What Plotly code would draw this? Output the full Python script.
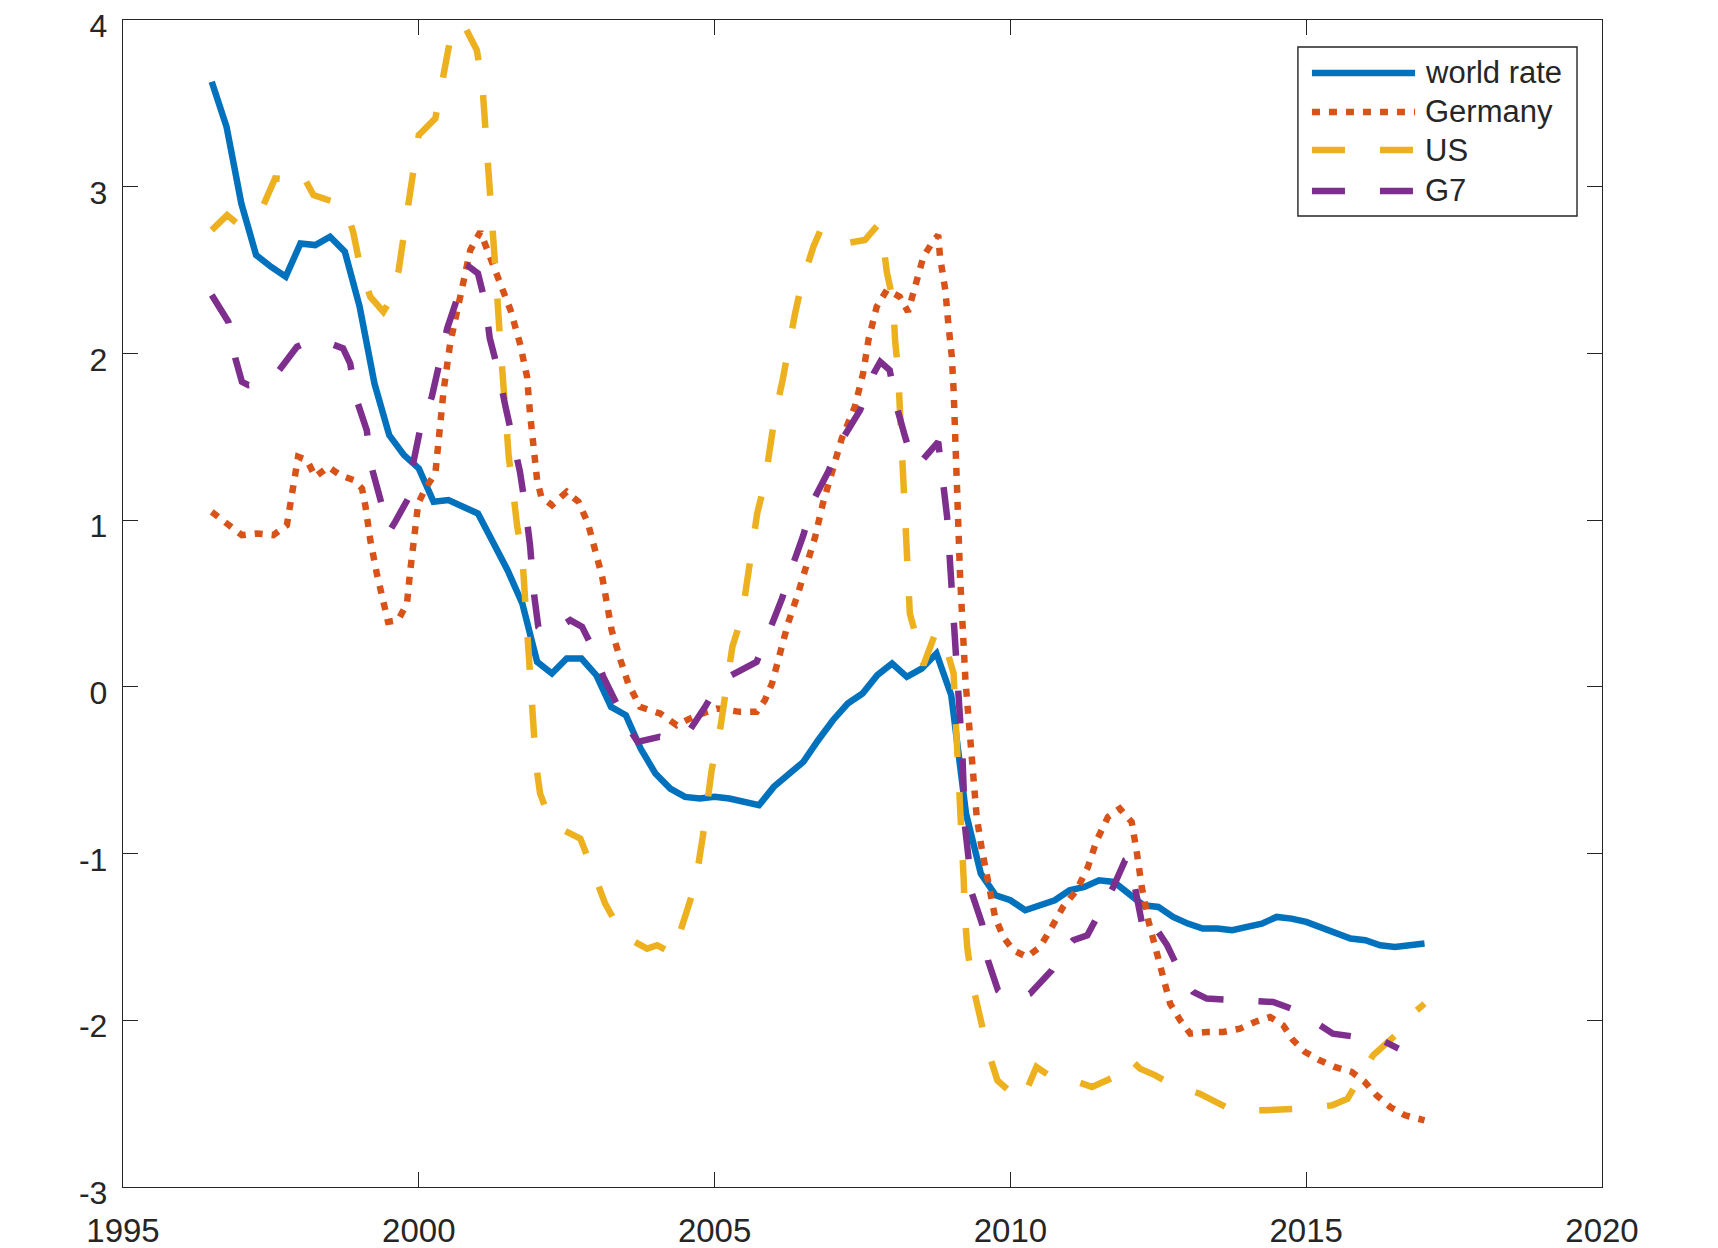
import plotly.graph_objects as go

# ---------------- data ----------------
world_x = [1996.5 + 0.25 * i for i in range(83)]
world_y = [3.63, 3.36, 2.90, 2.59, 2.52, 2.46, 2.66, 2.65, 2.70, 2.61,
           2.28, 1.82, 1.51, 1.39, 1.31, 1.11, 1.12, 1.08, 1.04, 0.87,
           0.70, 0.50, 0.15, 0.08, 0.17, 0.17, 0.07, -0.12, -0.17, -0.37,
           -0.52, -0.61, -0.66, -0.67, -0.66, -0.67, -0.69, -0.71, -0.60, -0.53,
           -0.45, -0.32, -0.20, -0.10, -0.04, 0.07, 0.14, 0.06, 0.11, 0.20,
           -0.05, -0.76, -1.12, -1.25, -1.28, -1.34, -1.31, -1.28, -1.22, -1.20,
           -1.16, -1.17, -1.24, -1.31, -1.32, -1.38, -1.42, -1.45, -1.45, -1.46,
           -1.44, -1.42, -1.38, -1.39, -1.41, -1.44, -1.48, -1.51, -1.52, -1.55,
           -1.56, -1.55, -1.54]

germany_x = [1996.5, 1996.78, 1997.01, 1997.26, 1997.54, 1997.77, 1997.86, 1997.96, 1998.11, 1998.25,
             1998.47, 1998.67, 1998.9, 1999.04, 1999.1, 1999.18, 1999.29, 1999.4, 1999.48, 1999.65,
             1999.8, 1999.85, 1999.91, 1999.99, 2000.11, 2000.28, 2000.33, 2000.42, 2000.53, 2000.7,
             2000.87, 2001.04, 2001.2, 2001.38, 2001.55, 2001.71, 2001.83, 2001.88, 2001.94, 2002.0,
             2002.07, 2002.25, 2002.5, 2002.7, 2002.86, 2002.98, 2003.1, 2003.18, 2003.26, 2003.41,
             2003.54, 2003.74, 2004.08, 2004.36, 2004.7, 2005.04, 2005.43, 2005.71, 2005.85, 2005.97,
             2006.11, 2006.24, 2006.41, 2006.56, 2006.7, 2006.83, 2006.98, 2007.15, 2007.37, 2007.51,
             2007.6, 2007.74, 2007.91, 2008.13, 2008.27, 2008.42, 2008.53, 2008.67, 2008.78, 2008.81,
             2008.9, 2008.95, 2009.01, 2009.04, 2009.07, 2009.1, 2009.15, 2009.24, 2009.29, 2009.35,
             2009.43, 2009.52, 2009.62, 2009.74, 2009.88, 2010.05, 2010.28, 2010.5, 2010.67, 2010.89,
             2011.12, 2011.31, 2011.46, 2011.65, 2011.85, 2012.05, 2012.14, 2012.22, 2012.33, 2012.44,
             2012.56, 2012.7, 2012.87, 2013.04, 2013.32, 2013.6, 2013.88, 2014.13, 2014.39, 2014.61,
             2014.78, 2014.98, 2015.23, 2015.48, 2015.77, 2015.99, 2016.19, 2016.42, 2016.67, 2017.0]
germany_y = [1.05, 0.97, 0.91, 0.92, 0.91, 0.97, 1.16, 1.38, 1.36, 1.26,
             1.32, 1.27, 1.24, 1.19, 1.08, 0.88, 0.68, 0.50, 0.39, 0.40,
             0.50, 0.68, 0.88, 1.10, 1.19, 1.28, 1.46, 1.78, 2.06, 2.34,
             2.62, 2.73, 2.58, 2.42, 2.26, 2.06, 1.86, 1.64, 1.42, 1.24,
             1.14, 1.09, 1.17, 1.11, 0.98, 0.82, 0.66, 0.50, 0.34, 0.16,
             0.02, -0.12, -0.16, -0.23, -0.17, -0.13, -0.15, -0.15, -0.08, 0.02,
             0.20, 0.38, 0.56, 0.72, 0.90, 1.10, 1.30, 1.49, 1.68, 1.88,
             2.08, 2.28, 2.38, 2.34, 2.25, 2.46, 2.58, 2.66, 2.71, 2.58,
             2.38, 2.18, 1.98, 1.78, 1.48, 1.08, 0.66, 0.04, -0.18, -0.48,
             -0.78, -0.98, -1.18, -1.38, -1.50, -1.58, -1.62, -1.56, -1.46, -1.32,
             -1.22, -1.08, -0.92, -0.78, -0.73, -0.81, -1.00, -1.20, -1.40, -1.54,
             -1.70, -1.90, -2.00, -2.08, -2.07, -2.07, -2.05, -2.01, -1.98, -2.03,
             -2.12, -2.19, -2.24, -2.28, -2.31, -2.37, -2.45, -2.52, -2.57, -2.60]

us_x = [1996.5, 1996.76, 1996.93, 1997.35, 1997.57, 1997.94, 1998.02, 1998.22, 1998.64, 1998.76,
        1998.89, 1999.01, 1999.18, 1999.4, 1999.52, 1999.66, 1999.83, 2000.0, 2000.28, 2000.39,
        2000.55, 2000.75, 2000.98, 2001.07, 2001.12, 2001.18, 2001.24, 2001.3, 2001.38, 2001.46,
        2001.52, 2001.59, 2001.66, 2001.75, 2001.8, 2001.86, 2001.92, 2001.98, 2002.05, 2002.2,
        2002.45, 2002.73, 2002.93, 2003.15, 2003.4, 2003.6, 2003.86, 2004.03, 2004.3, 2004.5,
        2004.67, 2004.8, 2004.95, 2005.1, 2005.21, 2005.3, 2005.46, 2005.55, 2005.65, 2005.72,
        2005.85, 2005.94, 2006.02, 2006.15, 2006.24, 2006.36, 2006.48, 2006.67, 2006.79, 2006.95,
        2007.2, 2007.54, 2007.76, 2007.83, 2007.91, 2008.02, 2008.05, 2008.1, 2008.13, 2008.17,
        2008.2, 2008.22, 2008.26, 2008.3, 2008.44, 2008.53, 2008.73, 2008.8, 2008.9, 2009.04,
        2009.07, 2009.1, 2009.13, 2009.15, 2009.19, 2009.21, 2009.23, 2009.27, 2009.35, 2009.48,
        2009.61, 2009.78, 2010.0, 2010.2, 2010.44, 2010.65, 2010.89, 2011.06, 2011.38, 2011.82,
        2012.02, 2012.19, 2012.45, 2012.7, 2013.2, 2013.75, 2014.28, 2014.93, 2015.44, 2015.7,
        2015.88, 2016.13, 2016.54, 2016.76, 2016.87, 2017.0]
us_y = [2.74, 2.83, 2.78, 2.87, 3.05, 3.04, 3.08, 2.95, 2.90, 2.87,
        2.73, 2.52, 2.34, 2.25, 2.32, 2.50, 2.91, 3.31, 3.41, 3.60,
        3.92, 3.98, 3.82, 3.63, 3.40, 3.10, 2.81, 2.48, 2.05, 1.62,
        1.38, 1.19, 0.97, 0.78, 0.50, 0.18, -0.20, -0.46, -0.64, -0.78,
        -0.86, -0.91, -1.09, -1.30, -1.46, -1.52, -1.57, -1.55, -1.60, -1.38,
        -1.19, -0.90, -0.50, -0.24, 0.02, 0.24, 0.42, 0.64, 0.82, 1.04,
        1.23, 1.44, 1.63, 1.84, 2.03, 2.24, 2.43, 2.64, 2.74, 2.70,
        2.66, 2.68, 2.77, 2.72, 2.49, 2.31, 2.08, 1.90, 1.68, 1.40,
        1.08, 0.86, 0.67, 0.44, 0.26, 0.13, 0.32, 0.33, 0.25, 0.08,
        -0.16, -0.34, -0.56, -0.74, -0.96, -1.15, -1.37, -1.56, -1.77, -1.96,
        -2.17, -2.36, -2.43, -2.48, -2.28, -2.33, -2.36, -2.36, -2.40, -2.33,
        -2.23, -2.29, -2.33, -2.38, -2.44, -2.54, -2.54, -2.53, -2.51, -2.47,
        -2.36, -2.21, -2.08, -1.96, -1.94, -1.90]

g7_x = [1996.5, 1996.78, 1996.9, 1997.01, 1997.12, 1997.35, 1997.62, 1997.94, 1998.2, 1998.5,
        1998.72, 1998.84, 1998.95, 1999.12, 1999.2, 1999.35, 1999.5, 1999.6, 1999.82, 1999.91,
        2000.02, 2000.22, 2000.33, 2000.48, 2000.64, 2000.85, 2001.0, 2001.12, 2001.2, 2001.34,
        2001.46, 2001.57, 2001.71, 2001.8, 2001.88, 2001.95, 2002.02, 2002.17, 2002.4, 2002.56,
        2002.76, 2002.9, 2003.12, 2003.37, 2003.55, 2003.7, 2003.83, 2004.07, 2004.3, 2004.56,
        2004.84, 2005.0, 2005.23, 2005.71, 2005.94, 2006.14, 2006.32, 2006.5, 2006.67, 2006.92,
        2007.15, 2007.46, 2007.69, 2007.8, 2007.96, 2008.07, 2008.22, 2008.35, 2008.44, 2008.78,
        2008.93, 2009.01, 2009.04, 2009.1, 2009.15, 2009.19, 2009.21, 2009.23, 2009.29, 2009.35,
        2009.52, 2009.62, 2009.79, 2010.0, 2010.33, 2010.7, 2010.9, 2011.06, 2011.3, 2011.44,
        2011.6, 2011.74, 2011.94, 2012.0, 2012.06, 2012.17, 2012.28, 2012.5, 2012.65, 2012.92,
        2013.09, 2013.32, 2013.93, 2014.44, 2014.75, 2015.02, 2015.19, 2015.45, 2016.05, 2016.28,
        2016.56]
g7_y = [2.35, 2.19, 1.97, 1.83, 1.81, 1.82, 1.89, 2.04, 2.08, 2.06,
        2.03, 1.94, 1.72, 1.54, 1.32, 1.13, 0.93, 0.99, 1.13, 1.35,
        1.54, 1.74, 1.93, 2.15, 2.32, 2.52, 2.48, 2.31, 2.09, 1.90,
        1.69, 1.50, 1.29, 1.08, 0.85, 0.55, 0.36, 0.31, 0.37, 0.40,
        0.36, 0.26, 0.06, -0.11, -0.25, -0.33, -0.32, -0.30, -0.32, -0.27,
        -0.12, -0.02, 0.06, 0.15, 0.35, 0.53, 0.73, 0.91, 1.12, 1.29,
        1.48, 1.66, 1.88, 1.95, 1.90, 1.69, 1.50, 1.35, 1.33, 1.47,
        1.02, 0.61, 0.38, 0.05, -0.20, -0.42, -0.61, -0.83, -1.02, -1.24,
        -1.42, -1.64, -1.82, -1.88, -1.84, -1.70, -1.58, -1.52, -1.49, -1.40,
        -1.30, -1.20, -1.04, -1.03, -1.12, -1.30, -1.52, -1.47, -1.55, -1.75,
        -1.83, -1.87, -1.88, -1.89, -1.93, -1.97, -2.02, -2.08, -2.11, -2.12,
        -2.17]

series_names = ["world rate", "Germany", "US", "G7"]
x_ticks = [1995, 2000, 2005, 2010, 2015, 2020]
y_ticks = [-3, -2, -1, 0, 1, 2, 3, 4]

# ---------------- styling ----------------
BLUE = "#0072BD"
ORANGE = "#D95319"
YELLOW = "#EDB120"
PURPLE = "#7E2F8E"
TXT = "#262626"
FONT = "Liberation Sans, Arial, Helvetica, sans-serif"
LW = 6.5
DOT = "8px,9px"
DASH = "33px,35px"

colors = [BLUE, ORANGE, YELLOW, PURPLE]
dashes = ["solid", DOT, DASH, DASH]
xs = [world_x, germany_x, us_x, g7_x]
ys = [world_y, germany_y, us_y, g7_y]

fig = go.Figure()
for name, x, y, c, d in zip(series_names, xs, ys, colors, dashes):
    fig.add_trace(go.Scatter(x=x, y=y, mode="lines", name=name,
                             line=dict(color=c, width=LW, dash=d),
                             showlegend=False))

axis_common = dict(showline=True, linecolor=TXT, linewidth=1.4, mirror="ticks",
                   ticks="inside", ticklen=15, tickwidth=1.4, tickcolor=TXT,
                   showgrid=False, zeroline=False, automargin=False,
                   ticklabeloverflow="allow")

# ---------------- legend box (drawn in paper coordinates) ----------------
leg_x0, leg_x1 = 0.7944, 0.9831
leg_y0, leg_y1 = 0.8320, 0.9769
samp_x0, samp_x1 = 0.8039, 0.8736
text_x = 0.8790
row_y = [0.9546, 0.9212, 0.8886, 0.8535]

shapes = [dict(type="rect", xref="paper", yref="paper",
               x0=leg_x0, x1=leg_x1, y0=leg_y0, y1=leg_y1,
               line=dict(color=TXT, width=1.4), fillcolor="white", layer="above")]
annotations = []
for name, c, d, ry in zip(series_names, colors, dashes, row_y):
    shapes.append(dict(type="line", xref="paper", yref="paper",
                       x0=samp_x0, x1=samp_x1, y0=ry, y1=ry,
                       line=dict(color=c, width=LW, dash=d), layer="above"))
    annotations.append(dict(xref="paper", yref="paper", x=text_x, y=ry,
                            xanchor="left", yanchor="middle", showarrow=False,
                            text=name, font=dict(family=FONT, size=31, color=TXT)))

fig.update_layout(
    width=1718, height=1248,
    margin=dict(l=115, r=124, t=12, b=69),
    paper_bgcolor="white", plot_bgcolor="white",
    font=dict(family=FONT, color=TXT),
    xaxis=dict(range=[1995, 2020], tickvals=x_ticks, ticktext=[str(v) for v in x_ticks],
               ticklabelstandoff=14, tickfont=dict(family=FONT, size=33, color=TXT),
               **axis_common),
    yaxis=dict(range=[-3, 4], tickvals=y_ticks, ticktext=[str(v) for v in y_ticks],
               ticklabelstandoff=8, ticklabelshift=6,
               tickfont=dict(family=FONT, size=32, color=TXT), **axis_common),
    shapes=shapes,
    annotations=annotations,
    showlegend=False,
)

fig.write_html("out.html")
